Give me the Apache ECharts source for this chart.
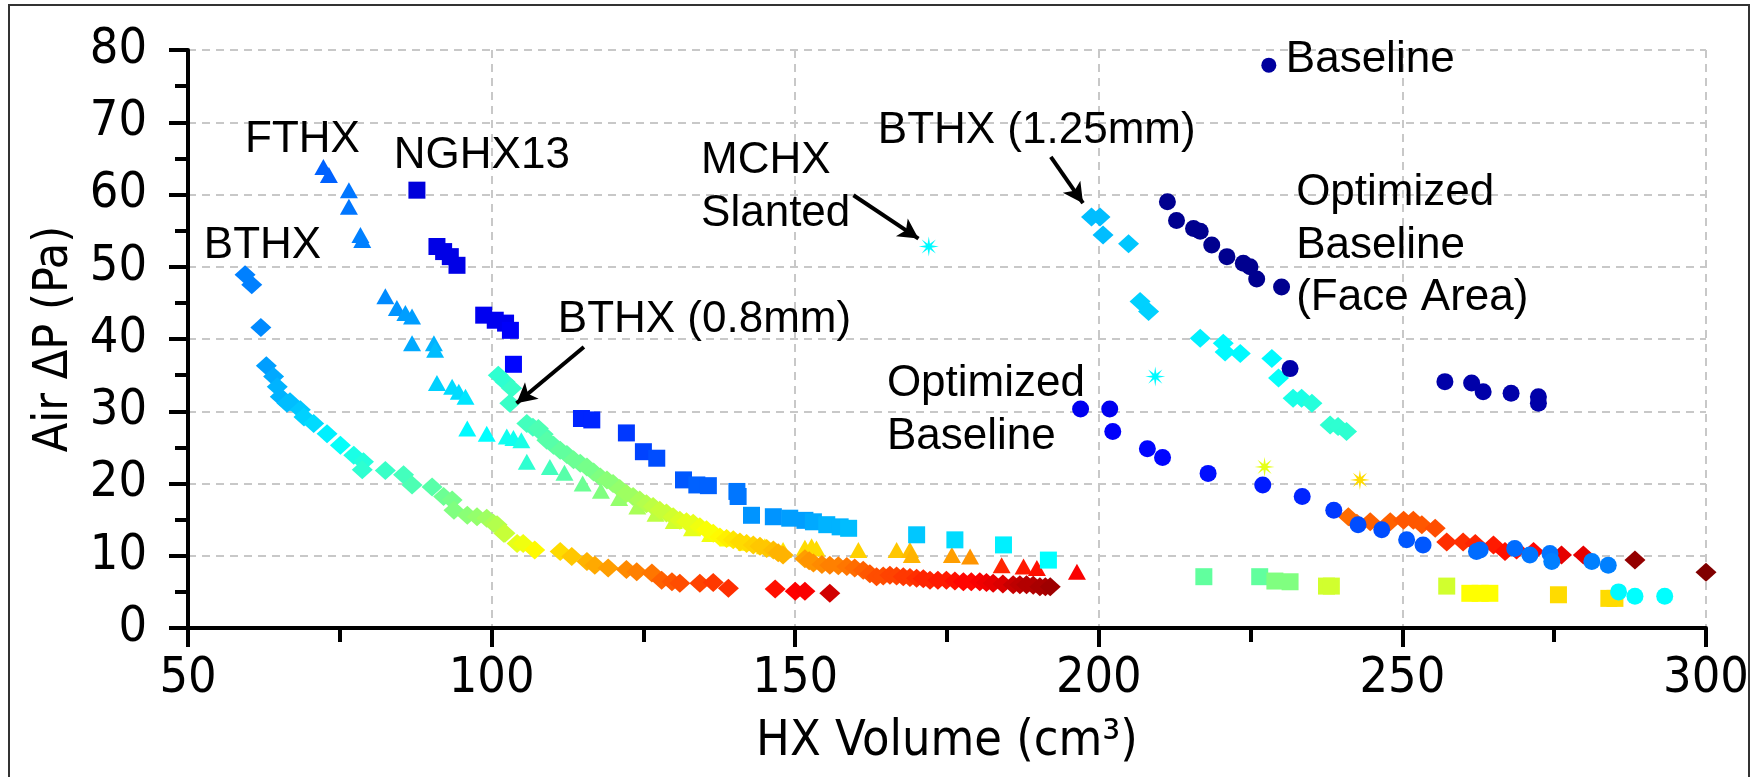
<!DOCTYPE html>
<html><head><meta charset="utf-8">
<script src="https://cdn.jsdelivr.net/npm/echarts@6/dist/echarts.min.js"></script>
<style>html,body{margin:0;padding:0;background:#fff}#c{width:1756px;height:777px}</style>
</head><body><div id="c"></div>
<script>
// ---- axis ticks ----
const xTicks = [50, 100, 150, 200, 250, 300];
const yTicks = [0, 10, 20, 30, 40, 50, 60, 70, 80];

// ---- series data: [HX volume (cm3), air dP (Pa), colour value 0..1 (jet)] ----
const bthx = [[59.4,48.9,0.25],[60.5,47.5,0.25],[62.0,41.6,0.26],[62.9,36.3,0.28],[64.1,34.8,0.29],[64.7,33.4,0.3],[65.2,32.0,0.3],[66.3,31.1,0.31],[66.8,31.3,0.31],[68.5,30.2,0.32],[69.1,29.2,0.33],[70.7,28.3,0.34],[72.9,26.9,0.36],[75.1,25.3,0.38],[77.3,23.9,0.4],[78.9,23.0,0.41],[78.7,21.9,0.42],[82.5,21.8,0.43],[85.5,21.2,0.44],[86.9,19.8,0.45],[90.2,19.5,0.46],[92.1,18.2,0.48],[93.5,17.7,0.49],[93.8,16.3,0.5],[96.0,15.6,0.51],[97.6,15.4,0.52],[99.2,15.2,0.53],[100.3,14.5,0.54],[100.9,14.3,0.55],[102.0,13.1,0.56],[102.2,13.1,0.57],[104.2,11.7,0.6],[105.2,11.7,0.61],[107.1,10.8,0.63],[111.3,10.6,0.66],[113.2,9.9,0.68],[115.7,9.2,0.7],[117.0,8.7,0.71],[119.2,8.3,0.72],[122.2,8.1,0.74],[123.9,7.8,0.75],[126.4,7.6,0.76],[128.0,6.6,0.78],[129.7,6.4,0.79],[131.0,6.2,0.8],[134.3,6.2,0.81],[136.5,6.3,0.82],[139.0,5.5,0.83],[146.7,5.4,0.86],[150.0,5.1,0.875],[151.6,5.1,0.88],[155.7,4.8,0.92]];
const fthx = [[72.3,63.8,0.22],[73.2,62.7,0.22],[76.5,60.6,0.24],[76.5,58.3,0.24],[78.4,54.4,0.25],[78.7,53.7,0.25],[82.5,45.9,0.26],[84.4,44.3,0.27],[85.8,43.6,0.28],[86.9,43.1,0.28],[86.9,39.4,0.29],[90.5,39.4,0.3],[90.7,38.5,0.31],[91.0,33.9,0.33],[93.5,33.4,0.34],[94.6,32.7,0.34],[95.7,32.0,0.35],[96.0,27.6,0.37],[99.2,26.9,0.375],[102.5,26.5,0.39],[103.6,26.3,0.39],[104.9,26.0,0.4],[105.8,23.0,0.42],[109.6,22.3,0.44],[112.0,21.5,0.46],[115.0,20.0,0.48],[118.0,19.0,0.5],[121.0,18.0,0.52],[124.0,16.8,0.54],[127.0,15.8,0.56],[130.0,14.8,0.58],[133.0,13.8,0.6],[136.0,13.0,0.61],[139.0,12.4,0.62],[142.0,11.8,0.63],[145.0,11.3,0.64],[148.0,10.8,0.65],[151.6,11.1,0.66],[152.7,11.3,0.66],[153.5,11.0,0.66],[160.4,10.8,0.67],[166.7,10.8,0.68],[168.9,10.8,0.69],[169.2,10.1,0.7],[175.8,10.1,0.72],[178.8,9.9,0.73],[184.0,8.7,0.84],[187.6,8.5,0.85],[189.8,8.3,0.86],[196.4,7.8,0.88]];
const nghx13 = [[87.7,60.6,0.09],[91.0,52.8,0.1],[92.1,52.1,0.1],[93.2,51.4,0.1],[94.3,50.2,0.1],[98.7,43.3,0.11],[100.6,42.6,0.11],[102.3,42.2,0.11],[103.1,41.2,0.12],[103.6,36.5,0.13],[114.8,29.0,0.16],[116.5,28.8,0.16],[122.2,27.0,0.18],[125.0,24.4,0.19],[127.2,23.5,0.2],[131.6,20.5,0.21],[133.8,19.8,0.22],[135.7,19.7,0.22],[140.4,18.9,0.24],[140.6,18.2,0.24],[142.8,15.6,0.27],[146.4,15.4,0.27],[149.1,15.2,0.28],[151.6,14.9,0.28],[153.0,14.7,0.29],[155.2,14.3,0.3],[157.4,14.0,0.3],[158.8,13.8,0.31],[170.0,12.9,0.32],[176.3,12.2,0.34],[184.3,11.5,0.36],[191.7,9.4,0.375]];
const squaresLow = [[217.3,7.1,0.47],[226.5,7.1,0.47],[229.0,6.5,0.5],[231.5,6.4,0.5],[237.5,5.8,0.58],[238.3,5.8,0.58],[257.3,5.8,0.58],[261.1,4.8,0.625],[262.8,4.8,0.625],[264.4,4.8,0.625],[275.7,4.6,0.66],[284.0,4.1,0.66],[285.0,4.1,0.66]];
const bthx08 = [[101.1,35.0,0.42],[102.2,34.1,0.42],[103.3,33.2,0.43],[103.0,31.1,0.43],[105.8,28.3,0.44],[106.8,27.8,0.44],[107.7,27.6,0.45],[108.5,26.8,0.45],[109.1,26.0,0.46],[110.2,25.3,0.46],[111.3,24.6,0.47],[112.4,24.0,0.47],[113.5,23.3,0.48],[114.6,22.8,0.48],[115.7,22.3,0.49],[116.8,21.6,0.49],[117.9,20.9,0.5],[119.0,20.5,0.51],[120.0,20.0,0.51],[121.1,19.3,0.52],[122.2,18.6,0.53],[123.3,18.2,0.53],[124.4,17.7,0.54],[125.5,17.2,0.55],[126.6,16.8,0.56],[127.7,16.3,0.57],[128.8,15.9,0.57],[129.9,15.4,0.58],[131.0,14.9,0.59],[132.1,14.7,0.6],[133.2,14.5,0.6],[134.3,14.0,0.61],[135.4,13.6,0.62],[136.5,13.1,0.62],[137.6,12.6,0.63],[138.7,12.4,0.64],[139.8,12.2,0.65],[140.9,11.9,0.66],[142.0,11.7,0.66],[143.1,11.5,0.67],[144.2,11.3,0.68],[145.3,11.0,0.68],[146.4,10.8,0.69],[147.2,10.4,0.7],[148.0,10.1,0.7],[151.6,9.6,0.72],[152.3,9.3,0.73],[153.0,9.0,0.73],[154.4,8.8,0.74],[155.7,8.7,0.75],[157.1,8.6,0.75],[158.5,8.5,0.76],[159.8,8.3,0.77],[161.2,8.0,0.78],[162.3,7.5,0.79],[163.4,7.1,0.8],[164.5,7.2,0.8],[165.6,7.3,0.81],[166.7,7.2,0.81],[167.8,7.1,0.82],[168.9,7.0,0.82],[170.0,6.9,0.83],[171.1,6.8,0.84],[172.2,6.6,0.84],[173.5,6.6,0.85],[174.9,6.6,0.85],[176.3,6.5,0.86],[177.7,6.4,0.87],[179.0,6.4,0.87],[180.4,6.4,0.88],[181.5,6.3,0.89],[182.6,6.2,0.9],[184.2,6.1,0.91],[185.9,6.0,0.93],[187.0,6.0,0.94],[188.1,6.0,0.95],[189.2,5.9,0.95],[190.3,5.7,0.96],[191.2,5.7,0.96],[192.0,5.7,0.97]];
const mchx = [[172.0,52.8,0.37],[209.3,34.8,0.37],[227.3,22.3,0.6],[243.0,20.5,0.66]];
const bthx125 = [[198.8,56.9,0.31],[200.2,56.9,0.31],[200.7,54.4,0.31],[204.9,53.2,0.32],[206.8,45.2,0.33],[208.2,43.8,0.33],[216.7,40.1,0.36],[220.5,39.4,0.37],[220.8,38.2,0.37],[223.3,38.0,0.37],[228.5,37.3,0.37],[229.6,34.6,0.38],[232.0,31.8,0.4],[233.4,31.8,0.4],[235.1,31.1,0.41],[238.1,28.1,0.42],[239.4,27.9,0.42],[240.8,27.2,0.42]];
const diamondsRight = [[241.1,15.4,0.77],[242.5,14.5,0.77],[244.7,14.7,0.78],[248.0,14.7,0.78],[250.2,14.9,0.79],[251.8,14.9,0.79],[253.2,14.3,0.79],[255.4,13.8,0.8],[257.3,11.9,0.83],[260.0,11.9,0.83],[262.0,11.7,0.84],[265.0,11.5,0.85],[266.9,10.6,0.86],[268.8,10.8,0.86],[271.6,10.6,0.87],[276.2,10.1,0.9],[279.8,10.1,0.9],[288.3,9.4,0.98],[300.0,7.7,1.0]];
const optBaseline = [[197.0,30.3,0.11],[201.8,30.3,0.11],[202.3,27.2,0.12],[208.0,24.8,0.13],[210.5,23.6,0.13],[218.0,21.4,0.14],[227.0,19.8,0.15],[233.5,18.2,0.16],[238.7,16.3,0.18],[242.7,14.3,0.2],[246.6,13.6,0.2],[250.7,12.2,0.21],[253.4,11.5,0.21],[262.2,10.6,0.23],[262.8,10.8,0.23],[268.5,11.0,0.23],[271.0,10.1,0.24],[274.3,10.3,0.24],[274.6,9.2,0.25],[281.2,9.2,0.25],[283.9,8.7,0.25]];
const circlesCyan = [[285.6,5.0,0.37],[288.3,4.4,0.375],[293.2,4.4,0.375]];
const optFaceArea = [[211.3,59.0,0.015],[212.8,56.4,0.015],[215.6,55.3,0.015],[216.7,54.9,0.015],[218.6,53.0,0.015],[221.1,51.4,0.015],[223.8,50.5,0.015],[224.9,50.0,0.015],[226.0,48.3,0.015],[230.1,47.2,0.015],[231.5,35.9,0.04],[257.0,34.1,0.04],[261.4,33.9,0.04],[263.3,32.7,0.04],[267.9,32.5,0.04],[272.4,32.0,0.04],[272.4,31.1,0.04]];
const baseline = [[228.0,77.9,0.03]];

// ---- annotations (data coordinates of text left / line centre) ----
const labels = [
  {t:'Baseline', x:230.8, y:78.6},
  {t:'FTHX', x:59.4, y:67.5},
  {t:'NGHX13', x:83.9, y:65.3},
  {t:'BTHX', x:52.6, y:52.9},
  {t:'BTHX (0.8mm)', x:110.9, y:42.6},
  {t:'MCHX', x:134.5, y:64.6},
  {t:'Slanted', x:134.5, y:57.3},
  {t:'BTHX (1.25mm)', x:163.6, y:68.8},
  {t:'Optimized', x:232.5, y:60.2},
  {t:'Baseline', x:232.5, y:52.9},
  {t:'(Face Area)', x:232.5, y:45.7},
  {t:'Optimized', x:165.1, y:33.8},
  {t:'Baseline', x:165.1, y:26.4}
];
const arrows = [
  [[115.2,38.9],[104.1,31.1]],
  [[159.6,59.9],[170.3,53.9]],
  [[192.1,65.2],[197.4,58.8]]
];

const AXFONT = "'DejaVu Sans Condensed','Liberation Sans',sans-serif";
const TXFONT = "'Liberation Sans',Arial,sans-serif";
const jet = ['#000080','#0000FF','#0080FF','#00FFFF','#80FF80','#FFFF00','#FF8000','#FF0000','#800000'];

// asterisk-like 8-ray star
function asteriskPath(){
  let d = '';
  const n = 16;
  for (let i = 0; i < n; i++) {
    const a = Math.PI * 2 * i / n;
    const r = (i % 2 === 0) ? 10 : 3.0;
    const x = (10 + r * Math.cos(a)).toFixed(2), y = (10 + r * Math.sin(a)).toFixed(2);
    d += (i === 0 ? 'M' : 'L') + x + ' ' + y + ' ';
  }
  return 'path://' + d + 'Z';
}

function sc(name, data, symbol, size) {
  return {type:'scatter', name, data, symbol, symbolSize:size, itemStyle:{opacity:1}, z:3};
}

const chart = echarts.init(document.getElementById('c'), null, {renderer:'canvas'});
const axisCommon = {
  type:'value',
  nameLocation:'middle',
  axisLine:{show:true, onZero:false, lineStyle:{color:'#000', width:4}},
  axisTick:{show:true, inside:false, lineStyle:{color:'#000', width:4}},
  minorTick:{show:true, splitNumber:2, lineStyle:{color:'#000', width:4}},
  splitLine:{show:true, lineStyle:{color:'#c8c8c8', width:2, type:[8,6]}},
  minorSplitLine:{show:false}
};
chart.setOption({
  animation:false,
  backgroundColor:'#fff',
  grid:{left:188, right:50, top:50, bottom:149},
  visualMap:{type:'continuous', show:false, min:0, max:1, dimension:2, seriesIndex:[0,1,2,3,4,5,6,7,8,9,10,11], inRange:{color:jet}},
  xAxis:Object.assign({}, axisCommon, {
    min:xTicks[0], max:xTicks[xTicks.length-1], interval:xTicks[1]-xTicks[0],
    name:'HX Volume (cm³)', nameGap:89,
    nameTextStyle:{fontFamily:AXFONT, fontSize:50, color:'#000'},
    axisTick:Object.assign({}, axisCommon.axisTick, {length:19}),
    minorTick:Object.assign({}, axisCommon.minorTick, {length:14}),
    axisLabel:{fontFamily:AXFONT, fontSize:50, color:'#000', margin:26}
  }),
  yAxis:Object.assign({}, axisCommon, {
    min:yTicks[0], max:yTicks[yTicks.length-1], interval:yTicks[1]-yTicks[0],
    name:'Air ΔP (Pa)', nameGap:103,
    nameTextStyle:{fontFamily:AXFONT, fontSize:48, color:'#000'},
    axisTick:Object.assign({}, axisCommon.axisTick, {length:19}),
    minorTick:Object.assign({}, axisCommon.minorTick, {length:13}),
    axisLabel:{fontFamily:AXFONT, fontSize:50, color:'#000', margin:41}
  }),
  series:[
    sc('BTHX', bthx, 'diamond', [21,19]),
    sc('FTHX', fthx, 'triangle', [18,16]),
    sc('NGHX13', nghx13, 'rect', 17),
    sc('NGHX13 low', squaresLow, 'rect', 17),
    sc('BTHX (0.8mm)', bthx08, 'diamond', [21,19]),
    sc('BTHX (1.25mm)', bthx125, 'diamond', [21,19]),
    sc('Right diamonds', diamondsRight, 'diamond', [21,19]),
    sc('Optimized Baseline', optBaseline, 'circle', 17),
    sc('Cyan circles', circlesCyan, 'circle', 17),
    sc('Optimized Baseline (Face Area)', optFaceArea, 'circle', 17),
    sc('Baseline', baseline, 'circle', 15),
    sc('MCHX Slanted', mchx, asteriskPath(), 20),
    {type:'scatter', name:'arrows', data:[], z:5,
      markLine:{silent:true, symbol:['none','arrow'], symbolSize:[16,20], label:{show:false},
        lineStyle:{color:'#000', width:4, type:'solid'},
        data:arrows.map(a => [{coord:a[0]},{coord:a[1]}])}}
  ]
});

const g = [{type:'rect', shape:{x:9, y:5, width:1740, height:790}, style:{fill:'none', stroke:'#333', lineWidth:2}, z:0}];
labels.forEach(l => {
  const p = chart.convertToPixel({gridIndex:0}, [l.x, l.y]);
  g.push({type:'text', x:p[0], y:p[1], z:10,
    style:{text:l.t, fontFamily:TXFONT, fontSize:44, fill:'#000', align:'left', verticalAlign:'middle'}});
});
chart.setOption({graphic:g});
</script></body></html>
